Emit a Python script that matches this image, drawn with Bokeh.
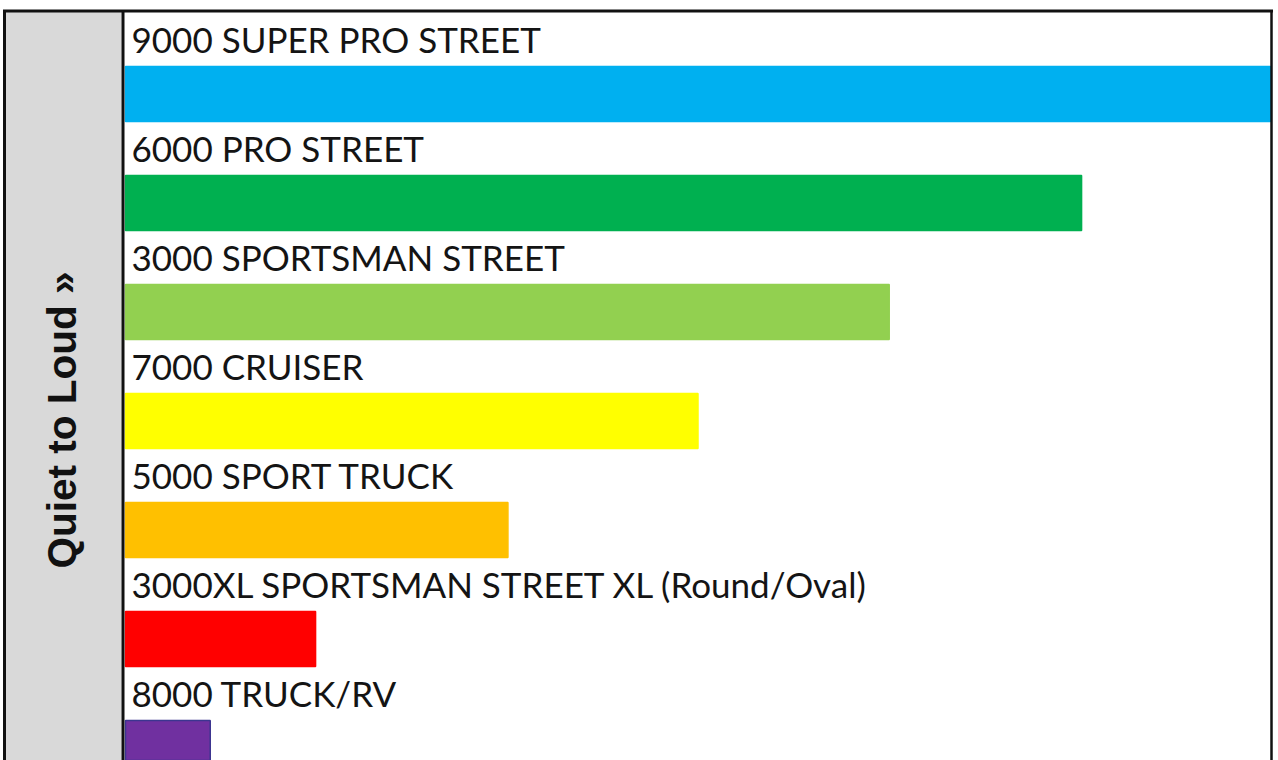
import math
from bokeh.plotting import figure
from bokeh.models import Range1d
from bokeh.core.properties import value
from bokeh.embed import file_html
from bokeh.resources import INLINE

# ---- data ----
categories = [
    "9000 SUPER PRO STREET",
    "6000 PRO STREET",
    "3000 SPORTSMAN STREET",
    "7000 CRUISER",
    "5000 SPORT TRUCK",
    "3000XL SPORTSMAN STREET XL (Round/Oval)",
    "8000 TRUCK/RV",
]
loudness = [100, 83.5, 66.7, 50, 33.4, 16.6, 7.4]
bar_colors = ["#00b0f0", "#00b050", "#92d050", "#ffff00", "#ffc000", "#ff0000", "#7030a0"]
edge_colors = ["#00b0f0", "#00b050", "#92d050", "#ffff00", "#ffc000", "#ff0000", "#3c3590"]
side_label = "Quiet to Loud \u00bb"

# ---- layout (page pixels -> data) ----
W, H = 1278, 760
X0, X100 = 125, 1270          # page x of value 0 and value 100
PPU = (X100 - X0) / 100.0
ROW0, ROWSTEP = 93.5, 109.0   # page y of first bar center, row pitch


def dx(px):
    return (px - X0) / PPU


def dy(py):
    return (py - ROW0) / ROWSTEP


p = figure(width=W, height=H, output_backend="svg", toolbar_location=None,
           x_axis_type=None, y_axis_type=None,
           x_range=Range1d(dx(0), dx(W)),
           y_range=Range1d(dy(H), dy(0)),
           min_border=0, min_border_left=0, min_border_right=0,
           min_border_top=0, min_border_bottom=0)
p.outline_line_color = None
p.background_fill_color = "white"
p.border_fill_color = "white"

ys = list(range(len(categories)))
bar_h = 55 / ROWSTEP

# grey side panel
p.quad(left=dx(5), right=dx(121), bottom=dy(H + 5), top=dy(11),
       fill_color="#d9d9d9", line_color=None)

# bars
p.hbar(y=ys, left=0, right=loudness, height=bar_h,
       fill_color=bar_colors, line_color=edge_colors, line_width=1.5)

# bar labels
p.text(x=[dx(131)] * len(ys), y=[y - (27.5 + 13 + 15) / ROWSTEP for y in ys],
       text=categories, text_font=value("Lato"), text_font_size="35px",
       text_color="#141414", text_baseline="alphabetic", text_align="left")

# side label
p.text(x=[dx(61)], y=[dy(419.5)], text=[side_label], angle=math.pi / 2,
       text_font=value("Liberation Sans"), text_font_style="bold",
       text_font_size="40.5px", text_color="#111111",
       text_align="center", text_baseline="middle")

# frame lines
p.segment(x0=[dx(4), dx(122.5), dx(1271)],
          y0=[dy(9.5), dy(9.5), dy(9.5)],
          x1=[dx(4), dx(122.5), dx(1271)],
          y1=[dy(H + 5)] * 3,
          line_color="#111111", line_width=[3, 3, 2.5])
p.segment(x0=[dx(2.5)], y0=[dy(10.5)], x1=[dx(1272.5)], y1=[dy(10.5)],
          line_color="#111111", line_width=3)

open("out.html", "w").write(file_html(p, INLINE))
